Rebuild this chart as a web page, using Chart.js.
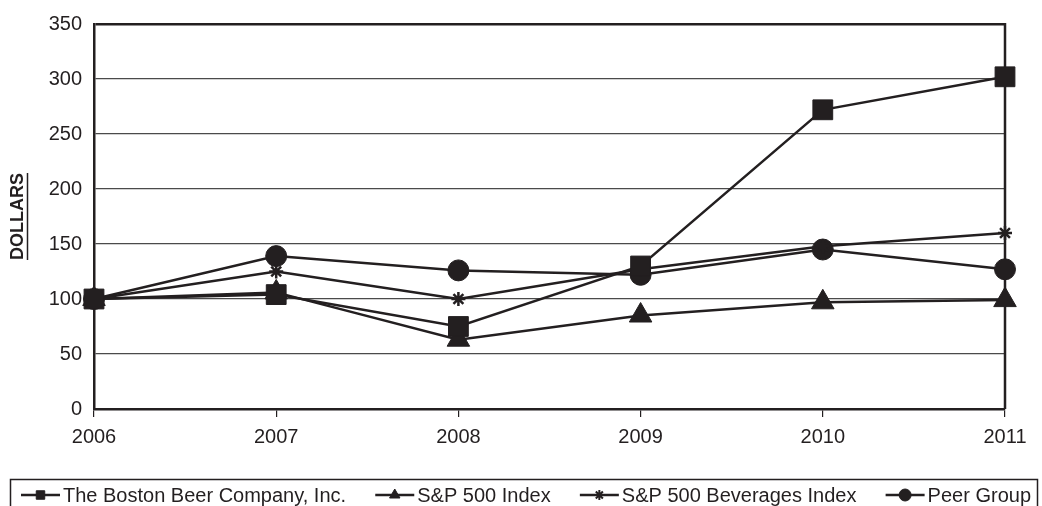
<!DOCTYPE html>
<html>
<head>
<meta charset="utf-8">
<script src="https://cdn.jsdelivr.net/npm/chart.js@4.4.1/dist/chart.umd.min.js"></script>
<style>
  html, body { margin: 0; padding: 0; background: #fff; }
  #wrap { width: 1042px; height: 506px; position: relative; }
</style>
</head>
<body>
<div id="wrap"><canvas id="tsrChart"></canvas></div>
<script>
// cumulative total return, $100 invested in 2006
const years = ['2006', '2007', '2008', '2009', '2010', '2011'];
const bostonBeer = [100, 104, 75, 130, 272, 302];
const sp500 = [100, 106, 63, 85, 97, 99];
const spBeverages = [100, 125, 100, 127, 148, 160];
const peerGroup = [100, 139, 126, 122, 145, 127];
const seriesNames = ['The Boston Beer Company, Inc.', 'S&P 500 Index', 'S&P 500 Beverages Index', 'Peer Group'];
const yTicks = [0, 50, 100, 150, 200, 250, 300, 350];

const ink = '#231f20';
const fontFamily = '"Liberation Sans", Arial, Helvetica, sans-serif';

function makeSeries(label, data, style, radius) {
    return {
        label: label,
        data: data,
        borderColor: ink,
        backgroundColor: ink,
        borderWidth: 2.5,
        pointStyle: style,
        pointRadius: radius,
        pointHoverRadius: radius,
        pointBorderWidth: style === 'star' ? 2.5 : 1,
        pointBackgroundColor: ink,
        pointBorderColor: ink,
        tension: 0,
        clip: false
    };
}

// frame on the right side, underline for axis title and the boxed legend
const framePlugin = {
    id: 'frame',
    beforeDatasetsDraw(chart) {
        const a = chart.chartArea;
        const ctx = chart.ctx;
        ctx.save();
        ctx.strokeStyle = ink;
        ctx.lineWidth = 2.5;
        ctx.beginPath();
        ctx.moveTo(a.right, a.top - 1);
        ctx.lineTo(a.right, a.bottom);
        ctx.stroke();
        ctx.restore();
    },
    afterDraw(chart) {
        const ctx = chart.ctx;
        const a = chart.chartArea;
        ctx.save();
        // underline DOLLARS
        ctx.font = 'bold 18px ' + fontFamily;
        const tw = ctx.measureText('DOLLARS').width;
        const cy = (a.top + a.bottom) / 2;
        ctx.strokeStyle = ink;
        ctx.lineWidth = 1.5;
        ctx.beginPath();
        ctx.moveTo(27.5, cy - tw / 2);
        ctx.lineTo(27.5, cy + tw / 2);
        ctx.stroke();

        // legend box
        const boxL = 10.5, boxR = 1037.5, boxT = 479.5, boxB = 520;
        ctx.lineWidth = 1.5;
        ctx.strokeRect(boxL, boxT, boxR - boxL, boxB - boxT);

        ctx.font = '20px ' + fontFamily;
        ctx.textBaseline = 'middle';
        ctx.fillStyle = ink;
        const markW = 39, markGap = 3;
        const sets = chart.data.datasets;
        let total = 0;
        const widths = sets.map(ds => ctx.measureText(ds.label).width);
        widths.forEach(w => total += w + markW + markGap);
        const startX = 21, endX = 1031;
        const gap = (endX - startX - total) / (sets.length - 1);
        let x = startX;
        const y = 495;
        sets.forEach((ds, i) => {
            ctx.lineWidth = 2.5;
            ctx.strokeStyle = ink;
            ctx.beginPath();
            ctx.moveTo(x, y);
            ctx.lineTo(x + markW, y);
            ctx.stroke();
            ctx.lineWidth = ds.pointStyle === 'star' ? 2 : 1;
            Chart.helpers.drawPoint(ctx, {
                pointStyle: ds.pointStyle,
                radius: ds.pointStyle === 'star' ? 5 : 6,
                rotation: 0,
                borderWidth: ds.pointStyle === 'star' ? 2 : 1
            }, x + markW / 2, y);
            ctx.fillText(ds.label, x + markW + markGap, y + 1);
            x += markW + markGap + widths[i] + gap;
        });
        ctx.restore();
    }
};

const ctx = document.getElementById('tsrChart').getContext('2d');
const chart = new Chart(ctx, {
    type: 'line',
    data: {
        labels: years,
        datasets: [
            makeSeries(seriesNames[0], bostonBeer, 'rect', 14),
            makeSeries(seriesNames[1], sp500, 'triangle', 13),
            makeSeries(seriesNames[2], spBeverages, 'star', 7),
            makeSeries(seriesNames[3], peerGroup, 'circle', 10.5)
        ]
    },
    options: {
        responsive: true,
        maintainAspectRatio: false,
        animation: false,
        layout: {
            padding: { top: 24, right: 37, bottom: 46, left: 0 }
        },
        scales: {
            x: {
                type: 'category',
                offset: false,
                afterFit: (scale) => { scale.height = 51; },
                grid: {
                    display: true,
                    drawOnChartArea: false,
                    drawTicks: true,
                    tickLength: 8,
                    color: ink,
                    lineWidth: 1.2
                },
                border: { display: true, color: ink, width: 2.5 },
                ticks: {
                    color: ink,
                    padding: 8,
                    maxRotation: 0,
                    font: { family: fontFamily, size: 20 }
                }
            },
            y: {
                min: 0,
                max: 350,
                afterFit: (scale) => { scale.width = 94; },
                afterBuildTicks: (scale) => { scale.ticks = yTicks.map(v => ({ value: v })); },
                grid: {
                    drawTicks: false,
                    color: (c) => c.tick && c.tick.value === 350 ? ink : '#4a4a4a',
                    lineWidth: (c) => c.tick && c.tick.value === 350 ? 2.5 : 1.3
                },
                border: { display: true, color: ink, width: 2.5 },
                ticks: {
                    color: ink,
                    padding: 12,
                    font: { family: fontFamily, size: 20 }
                },
                title: {
                    display: true,
                    text: 'DOLLARS',
                    color: ink,
                    padding: { top: 7, bottom: 0 },
                    font: { family: fontFamily, size: 18, weight: 'bold' }
                }
            }
        },
        plugins: {
            legend: { display: false },
            tooltip: { enabled: false }
        }
    },
    plugins: [framePlugin]
});
</script>
</body>
</html>
